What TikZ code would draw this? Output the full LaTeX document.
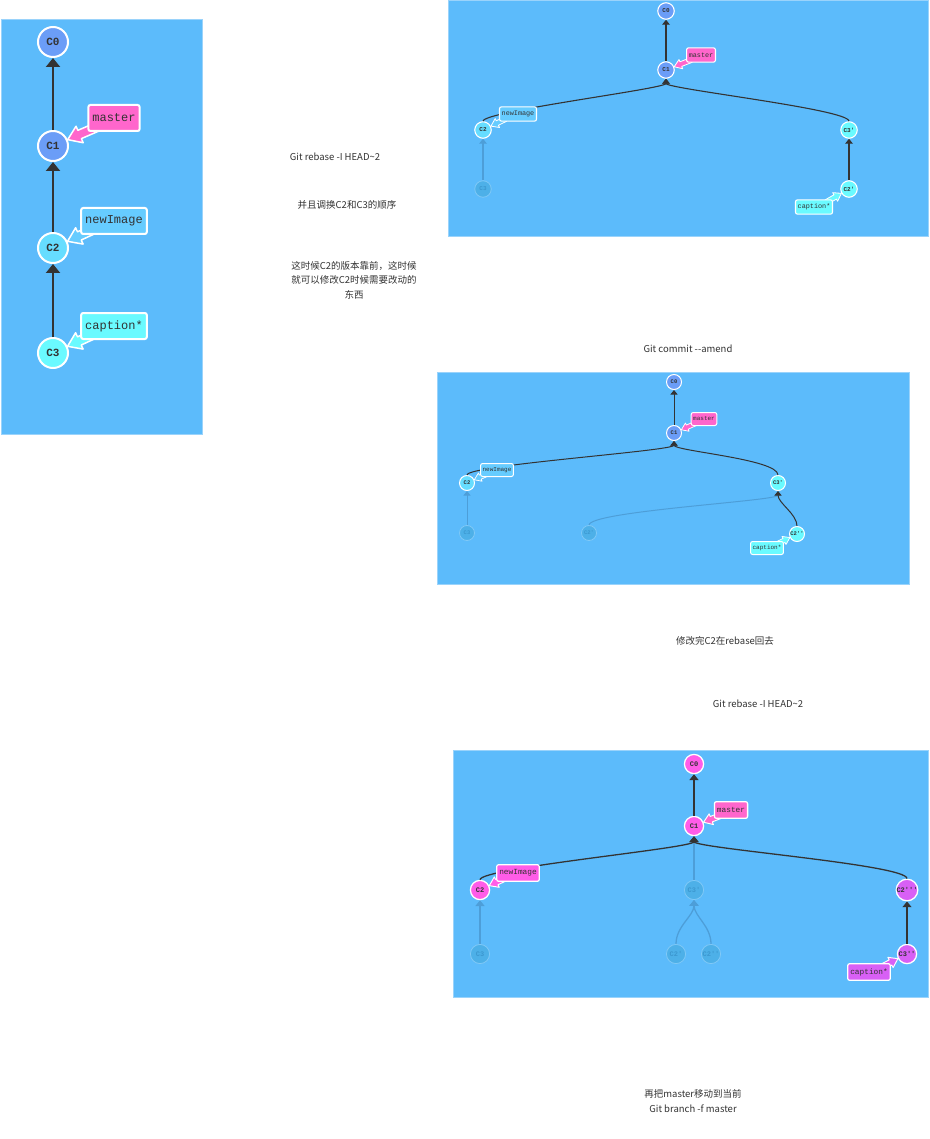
\documentclass[tikz,border=0pt]{standalone}
\usepackage{fontspec}
\usetikzlibrary{arrows.meta,calc,positioning}
\newfontfamily\cfont{Liberation Mono}
\newfontfamily\notefont{Noto Sans CJK SC}
\definecolor{panelbg}{HTML}{5CBBFB}
\definecolor{panelline}{HTML}{9AD3FB}
\definecolor{cblue}{HTML}{6B9DF7}
\definecolor{cteal}{HTML}{66DDFF}
\definecolor{ccyan}{HTML}{6AFAFF}
\definecolor{tagblue}{HTML}{66CCFF}
\definecolor{tagpink}{HTML}{FF66CC}
\definecolor{cmag}{HTML}{FF5CE8}
\definecolor{cpurple}{HTML}{D860F5}
\definecolor{inkc}{HTML}{333333}
\definecolor{ghostfill}{HTML}{4DB0E8}
\definecolor{ghostline}{HTML}{80C9F7}
\definecolor{ghosttext}{HTML}{3C98D0}
\definecolor{ghostedge}{HTML}{4D9ED8}
\pgfdeclarelayer{back}
\pgfdeclarelayer{mid}
\pgfsetlayers{back,mid,main}
\tikzset{
  panel/.style n args={3}{%
    every commit/.style={minimum size=#1*30, line width=#1*2, font=\cfont\bfseries\fontsize{#2}{#2}\selectfont},
    every tag/.style={line width=#1*2, inner xsep=#1*4, inner ysep=0pt, minimum height=#1*26, font=\cfont\fontsize{#3}{#3}\selectfont},
    every link/.style={line width=#1*2, -{Triangle[width=14pt,length=9pt,scale=#1]}}},
  panelbox/.style={fill=panelbg, draw=panelline, line width=1pt},
  commit/.style={circle, draw=white, fill=#1, text=inkc, inner sep=0pt, every commit},
  ghost/.style={circle, every commit, draw=ghostline, fill=ghostfill, text=ghosttext, inner sep=0pt, line width=0.8pt},
  tag/.style={rectangle, rounded corners=2pt, draw=white, fill=#1, text=inkc, every tag},
  link/.style={draw=inkc, every link},
  ghostlink/.style={draw=ghostedge, every link},
  note/.style={font=\notefont\fontsize{9.5}{14.5}\selectfont, text=inkc, align=center}
}
% fat pointer from a branch tag to its commit
\newcommand{\bptr}[5]{%
  \fill[#4, draw=white, line width=#5*1.5pt, line join=round]
    let \p1=($(#1.#2)!0.35!(#1.center)$), \p2=(#3.center),
        \n1={atan2(\y1-\y2,\x1-\x2)},
        \n2={#5*16}, \n3={#5*29}, \n4={#5*9}, \n5={#5*4.5} in
    ($(\p2)+(\n1:\n2)$) -- ($(\p2)+(\n1:\n3)+({\n1+90}:\n4)$)
    -- ($(\p2)+(\n1:\n3)+({\n1+90}:\n5)$) -- ($(\p1)+({\n1+90}:\n5)$)
    -- ($(\p1)+({\n1-90}:\n5)$) -- ($(\p2)+(\n1:\n3)+({\n1-90}:\n5)$)
    -- ($(\p2)+(\n1:\n3)+({\n1-90}:\n4)$) -- cycle;}

\begin{document}
\begin{tikzpicture}[x=1pt,y=1pt]
\begin{pgfonlayer}{back}\fill[white] (0,0) rectangle (929,-1139);\end{pgfonlayer}
\useasboundingbox (0,0) rectangle (929,-1139);

% start
\begin{scope}[panel={1}{11}{12}]
  \begin{pgfonlayer}{back}\draw[panelbox] (1,-20) rectangle (202,-434);\end{pgfonlayer}
  \node[commit=cblue] (a0) at (53,-42) {C0};
  \node[commit=cblue] (a1) at (53,-146) {C1};
  \node[commit=cteal] (a2) at (53,-248) {C2};
  \node[commit=ccyan] (a3) at (53,-353) {C3};
  \draw[link] (a1) -- (a0);
  \draw[link] (a2) -- (a1);
  \draw[link] (a3) -- (a2);
  \node[tag=tagpink] (amaster) at (114,-118) {master};
  \node[tag=tagblue] (anew) at (114,-221) {newImage};
  \node[tag=ccyan] (acap) at (114,-326) {caption*};
  \begin{pgfonlayer}{mid}
    \bptr{amaster}{south west}{a1}{tagpink}{1}
    \bptr{anew}{south west}{a2}{tagblue}{1}
    \bptr{acap}{south west}{a3}{ccyan}{1}
  \end{pgfonlayer}
\end{scope}

% after first rebase
\begin{scope}[panel={0.55}{6}{6.8}]
  \begin{pgfonlayer}{back}\draw[panelbox] (448,-1) rectangle (928,-237);\end{pgfonlayer}
  \node[commit=cblue] (b0) at (666,-11) {C0};
  \node[commit=cblue] (b1) at (666,-70) {C1};
  \node[commit=cteal] (b2) at (483,-130) {C2};
  \node[ghost] (b3) at (483,-189) {C3};
  \node[commit=ccyan] (b3p) at (849,-130) {C3'};
  \node[commit=ccyan] (b2p) at (849,-189) {C2'};
  \draw[ghostlink] (b3) -- (b2);
  \draw[link] (b1) -- (b0);
  \draw[link] (b2.north) .. controls +(0,10) and +(0,-10) .. (b1.south);
  \draw[link] (b3p.north) .. controls +(0,12) and +(0,-10) .. (b1.south);
  \draw[link] (b2p) -- (b3p);
  \node[tag=tagpink] (bmaster) at (701,-55) {master};
  \node[tag=tagblue] (bnew) at (518,-114) {newImage};
  \node[tag=ccyan] (bcap) at (814,-207) {caption*};
  \begin{pgfonlayer}{mid}
    \bptr{bmaster}{south west}{b1}{tagpink}{0.55}
    \bptr{bnew}{south west}{b2}{tagblue}{0.55}
    \bptr{bcap}{north east}{b2p}{ccyan}{0.55}
  \end{pgfonlayer}
\end{scope}

% after amend
\begin{scope}[panel={0.5}{5.5}{6}]
  \begin{pgfonlayer}{back}\draw[panelbox] (437,-372) rectangle (909,-584);\end{pgfonlayer}
  \node[commit=cblue] (c0) at (674,-382) {C0};
  \node[commit=cblue] (c1) at (674,-433) {C1};
  \node[commit=cteal] (c2) at (467,-483) {C2};
  \node[ghost] (c3) at (467,-533) {C3};
  \node[ghost] (c2p) at (589,-533) {C2'};
  \node[commit=ccyan] (c3p) at (778,-483) {C3'};
  \node[commit=ccyan] (c2pp) at (797,-534) {C2''};
  \draw[ghostlink] (c3) -- (c2);
  \draw[ghostlink] (c2p.north) .. controls +(0,14) and +(0,-10) .. (c3p.south);
  \draw[link] (c1) -- (c0);
  \draw[link] (c2.north) .. controls +(0,10) and +(0,-10) .. (c1.south);
  \draw[link] (c3p.north) .. controls +(0,16) and +(0,-10) .. (c1.south);
  \draw[link] (c2pp.north) .. controls +(0,12) and +(0,-12) .. (c3p.south);
  \node[tag=tagpink] (cmaster) at (704,-419) {master};
  \node[tag=tagblue] (cnew) at (497,-470) {newImage};
  \node[tag=ccyan] (ccap) at (767,-548) {caption*};
  \begin{pgfonlayer}{mid}
    \bptr{cmaster}{south west}{c1}{tagpink}{0.5}
    \bptr{cnew}{south west}{c2}{tagblue}{0.5}
    \bptr{ccap}{north east}{c2pp}{ccyan}{0.5}
  \end{pgfonlayer}
\end{scope}

% after second rebase
\begin{scope}[panel={0.64}{7}{7.8}]
  \begin{pgfonlayer}{back}\draw[panelbox] (453,-750) rectangle (928,-997);\end{pgfonlayer}
  \node[commit=cmag] (d0) at (694,-764) {C0};
  \node[commit=cmag] (d1) at (694,-826) {C1};
  \node[commit=cmag] (d2) at (480,-890) {C2};
  \node[ghost] (d3) at (480,-954) {C3};
  \node[ghost] (d3p) at (694,-890) {C3'};
  \node[ghost] (d2p) at (676,-954) {C2'};
  \node[ghost] (d2pp) at (711,-954) {C2''};
  \node[commit=cpurple] (d2ppp) at (907,-890) {C2'''};
  \node[commit=cpurple] (d3pp) at (907,-954) {C3''};
  \draw[ghostlink] (d3) -- (d2);
  \draw[ghostlink] (d3p) -- (d1);
  \draw[ghostlink] (d2p.north) .. controls +(0,18) and +(0,-16) .. (d3p.south);
  \draw[ghostlink] (d2pp.north) .. controls +(0,18) and +(0,-16) .. (d3p.south);
  \draw[link] (d1) -- (d0);
  \draw[link] (d2.north) .. controls +(0,12) and +(0,-12) .. (d1.south);
  \draw[link] (d2ppp.north) .. controls +(0,14) and +(0,-12) .. (d1.south);
  \draw[link] (d3pp) -- (d2ppp);
  \node[tag=tagpink] (dmaster) at (731,-810) {master};
  \node[tag=cmag] (dnew) at (518,-873) {newImage};
  \node[tag=cpurple] (dcap) at (869,-972) {caption*};
  \begin{pgfonlayer}{mid}
    \bptr{dmaster}{south west}{d1}{tagpink}{0.64}
    \bptr{dnew}{south west}{d2}{cmag}{0.64}
    \bptr{dcap}{north east}{d3pp}{cpurple}{0.64}
  \end{pgfonlayer}
\end{scope}

% notes
\node[note] (n1) at (335,-157) {Git rebase -I HEAD\textasciitilde 2};
\node[note] (n2) at (347,-205) {并且调换C2和C3的顺序};
\node[note] (n3) at (354,-280) {这时候C2的版本靠前，这时候\\就可以修改C2时候需要改动的\\东西};
\node[note] (n4) at (688,-349) {Git commit --amend};
\node[note] (n5) at (725,-641) {修改完C2在rebase回去};
\node[note] (n6) at (758,-704) {Git rebase -I HEAD\textasciitilde 2};
\node[note] (n7) at (693,-1101) {再把master移动到当前\\Git branch -f master};
\end{tikzpicture}
\end{document}
